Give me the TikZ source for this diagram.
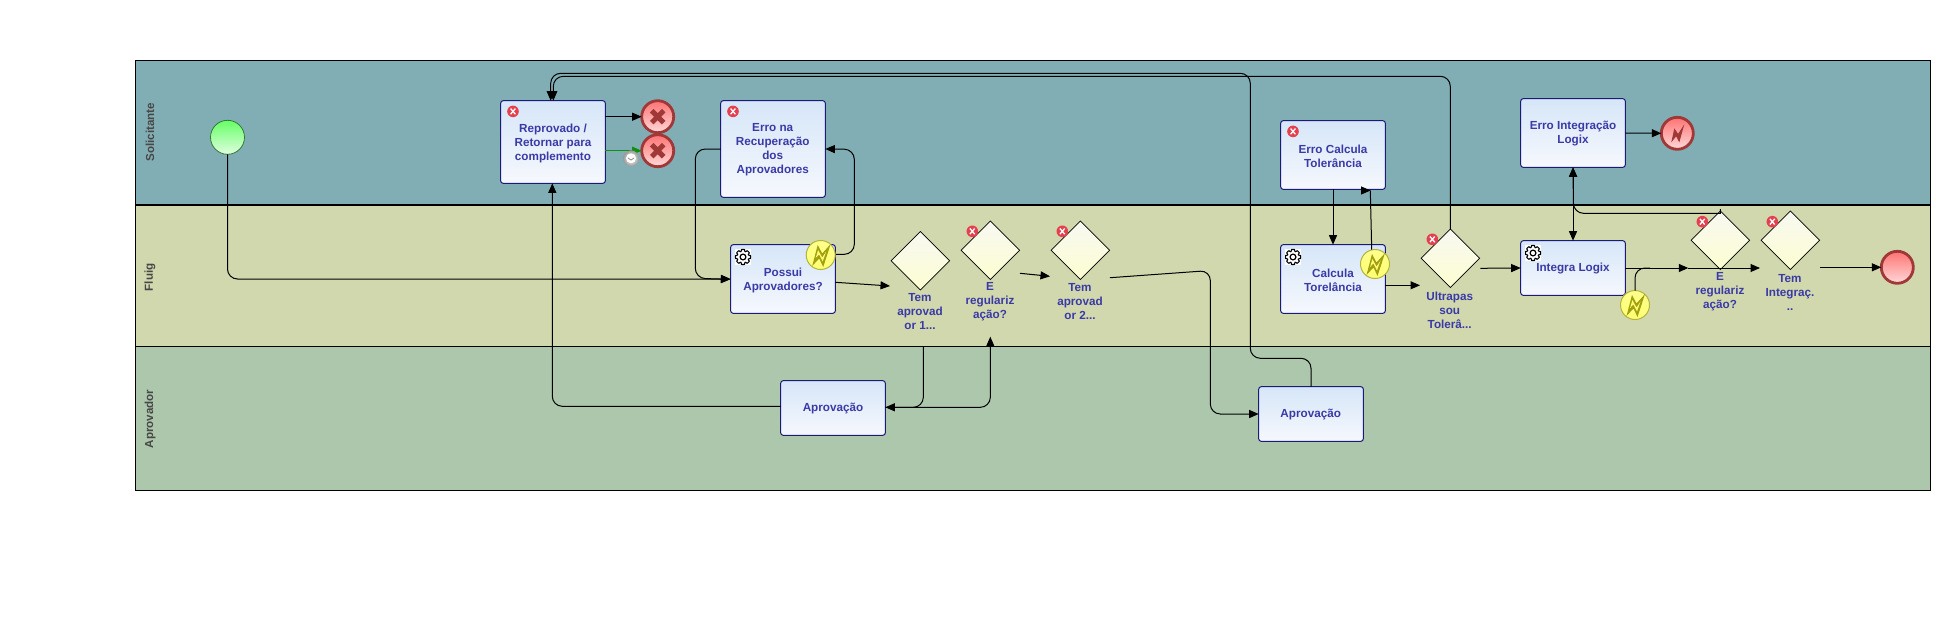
\documentclass[tikz,border=0pt]{standalone}
\usepackage{fontspec}
\usetikzlibrary{arrows.meta,calc,shapes.geometric}
\setmainfont{Liberation Sans}
\definecolor{laneA}{HTML}{81AEB4}
\definecolor{laneB}{HTML}{D1D8AE}
\definecolor{laneC}{HTML}{ACC7AB}
\definecolor{txtblue}{HTML}{3A3AA6}
\definecolor{taskline}{HTML}{1A1A78}
\definecolor{tasktop}{HTML}{D6E6F8}
\definecolor{taskbot}{HTML}{F6F8FD}
\definecolor{gwtop}{HTML}{F8F8F2}
\definecolor{gwbot}{HTML}{FCFED0}
\definecolor{endred}{HTML}{A03838}
\definecolor{olive}{HTML}{A0A010}
\definecolor{flowgreen}{HTML}{109010}
\definecolor{errred}{HTML}{E4404E}
\tikzset{
  lanebox/.style={draw=black,line width=1pt},
  lanelabel/.style={font=\fontsize{11.6}{13}\selectfont\bfseries,text=black!72,rotate=90,anchor=center},
  task/.style={draw=taskline,line width=1pt,rounded corners=2.5pt,top color=tasktop,bottom color=taskbot,minimum width=104.6pt,inner sep=0pt,outer sep=0pt},
  gw/.style={diamond,aspect=1,draw=black,line width=.7pt,top color=gwtop,bottom color=gwbot,minimum width=58.5pt,minimum height=58.5pt,inner sep=0pt,outer sep=0pt},
  startev/.style={circle,draw=green!35!black!80,line width=.8pt,top color=green!60!white,bottom color=green!12!white,minimum size=34pt,inner sep=0pt,outer sep=0pt},
  endev/.style={circle,draw=endred,line width=2.8pt,top color=red!55!white,bottom color=red!15!white,minimum size=32pt,inner sep=0pt,outer sep=0pt},
  boundev/.style={circle,draw=olive!80,line width=1pt,top color=yellow!45!white,bottom color=yellow!55!white,minimum size=29pt,inner sep=0pt,outer sep=0pt},
  lbl/.style={font=\fontsize{11.7}{14}\selectfont\bfseries,text=txtblue,align=center,inner sep=0pt},
  flow/.style={draw=black,line width=1pt,rounded corners=10pt,-{Triangle[length=9.5pt,width=8pt]}},
  plainflow/.style={draw=black,line width=1pt,rounded corners=10pt},
  errmark/.pic={
    \fill[errred] (0,0) circle (5.8);
    \draw[white,line width=1.3pt] (-2.4,-2.8) -- (2.4,2.8) (-2.4,2.8) -- (2.4,-2.8);
  },
  gearmark/.pic={
    \fill[white] (-8,-8) rectangle (8,8);
    \foreach \a in {0,45,...,315}{
      \draw[black,line width=1.1pt,line join=round] (\a-22.5:5.5) -- (\a-11:7.6) -- (\a+11:7.6) -- (\a+22.5:5.5);
    }
    \draw[black,line width=1.2pt] (0,0) circle (2.9);
  },
  boltmark/.pic={
    \fill[olive] (-8.5,11) -- (-3,-10) -- (1.5,-1.5) -- (10,-11) -- (2.5,12) -- (-1.5,3.5) -- cycle;
    \fill[yellow!55!white] (-5,3) -- (-2.6,-5) -- (1.5,2.5) -- (5.5,-3.5) -- (2,6.5) -- (-1.6,-.5) -- cycle;
  },
  endbolt/.pic={
    \fill[endred] (-6,9) -- (-3,-5) -- (.8,.5) -- (7,-9) -- (2,9) -- (-1.2,3) -- cycle;
  },
  endcross/.pic={
    \draw[endred,line width=5pt] (-6,-6) -- (6,6) (-6,6) -- (6,-6);
  },
  clockmark/.pic={
    \shade[inner color=white,outer color=black!40] (0,0) circle (8);
    \fill[white] (0,0) circle (5);
    \draw[black!50,line width=.7pt] (-3.2,-.5) -- (0,1.8) -- (3.2,-.5);
  }
}
\begin{document}
\begin{tikzpicture}[x=1pt,y=-1pt]
\useasboundingbox (0,0) rectangle (1936,629);
% lanes
\fill[laneA] (135.5,60.5) rectangle (1930,205);
\fill[laneB] (135.5,205) rectangle (1930,346);
\fill[laneC] (135.5,346) rectangle (1930,490);
\draw[lanebox] (135.5,60.5) rectangle (1930,490);
\draw[lanebox,line width=2pt] (135.5,205) -- (1930,205);
\draw[lanebox] (135.5,346) -- (1930,346);
\node[lanelabel] (l1) at (150,132.3) {Solicitante};
\node[lanelabel] (l2) at (150,277.3) {Fluig};
\node[lanelabel] (l3) at (150,419) {Aprovador};
% tasks
\node[task,minimum height=82.6pt] (reprov) at (553,142) {};
\node[task,minimum height=96.6pt] (erroRec) at (773,149) {};
\node[task,minimum height=68.6pt] (possui) at (783,279) {};
\node[task,minimum height=68.6pt] (erroCalc) at (1333,155) {};
\node[task,minimum height=68.6pt] (calc) at (1333,279) {};
\node[task,minimum height=68.6pt] (erroInt) at (1573,133) {};
\node[task,minimum height=54.6pt] (integra) at (1573,268) {};
\node[task,minimum height=54.6pt] (aprov1) at (833,408) {};
\node[task,minimum height=54.6pt] (aprov2) at (1311,414) {};
% gateways
\node[gw] (g1) at (920.3,260.7) {};
\node[gw] (g2) at (990.3,250.3) {};
\node[gw] (g3) at (1080.3,250.3) {};
\node[gw] (g4) at (1450.3,258.3) {};
\node[gw] (g5) at (1720.3,240.3) {};
\node[gw] (g6) at (1790.3,240.3) {};
% events
\node[startev] (start) at (227.5,137.3) {};
\node[endev] (endA) at (657.7,116.7) {};
\node[endev] (endB) at (657.7,150.7) {};
\node[endev] (endC) at (1677.3,133.3) {};
\node[endev] (endD) at (1897.3,267.3) {};
\pic at (endA) {endcross};
\pic at (endB) {endcross};
\pic at (endC) {endbolt};
\node[boundev] (bPossui) at (820.7,255) {};
\node[boundev] (bCalc) at (1375,264) {};
\node[boundev] (bInt) at (1635,305) {};
\pic at (bPossui) {boltmark};
\pic at (bCalc) {boltmark};
\pic at (bInt) {boltmark};
\coordinate (clock) at (631,158.3);
% labels
\node[lbl] (t1) at (553,143) {Reprovado /\\Retornar para\\complemento};
\node[lbl] (t2) at (772.7,150) {Erro na\\Recuperação\\dos\\Aprovadores};
\node[lbl] (t3) at (783,280) {Possui\\Aprovadores?};
\node[lbl] (t4) at (920,312) {Tem\\aprovad\\or 1...};
\node[lbl] (t5) at (990,302) {E\\regulariz\\ação?};
\node[lbl] (t6) at (1080,302) {Tem\\aprovad\\or 2...};
\node[lbl] (t7) at (1333,156) {Erro Calcula\\Tolerância};
\node[lbl] (t8) at (1333,280) {Calcula\\Torelância};
\node[lbl] (t9) at (1449.7,310) {Ultrapas\\sou\\Tolerâ...};
\node[lbl] (t10) at (1573,134) {Erro Integração\\Logix};
\node[lbl] (t11) at (1573,268.5) {Integra Logix};
\node[lbl] (t12) at (833,408.5) {Aprovação};
\node[lbl] (t13) at (1310.7,414.8) {Aprovação};
\node[lbl] (t14) at (1720,292) {E\\regulariz\\ação?};
\node[lbl] (t15) at (1790,292) {Tem\\Integraç.\\..};
% icons
\pic at ($(reprov.north west)+(12.3,10.7)$) {errmark};
\pic at ($(erroRec.north west)+(12.3,10.7)$) {errmark};
\pic at ($(erroCalc.north west)+(12.3,10.7)$) {errmark};
\pic at (972.3,231.3) {errmark};
\pic at (1062.3,231.3) {errmark};
\pic at (1432.3,239.3) {errmark};
\pic at (1702.3,221.7) {errmark};
\pic at (1772.3,221.7) {errmark};
\pic at ($(possui.north west)+(12.3,12.3)$) {gearmark};
\pic at ($(calc.north west)+(12.3,12.3)$) {gearmark};
\pic at ($(integra.north west)+(12.3,12.3)$) {gearmark};
% connectors
\draw[flow] (start.south) -- (start.south |- possui.west) -- (possui.west);
\draw[flow] (erroRec.west) -- ++(-25.4,0) -- ($(erroRec.west)+(-25.4,129.3)$) -- ($(possui.west)+(-.5,.3)$);
\draw[flow] ($(bPossui.east)+(1,-.7)$) -- (854.3,254.3) -- (854.3,149.3) -- (erroRec.east);
\draw[flow] (reprov.east |- endA) -- (endA.west);
\draw[flow,draw=flowgreen,{-{Triangle[length=9.5pt,width=8pt,flowgreen]}}] (reprov.east |- endB) -- (endB.west);
\pic at (clock) {clockmark};
\draw[flow] ($(possui.east)+(0,3.3)$) -- (890,286);
\draw[flow] (1020,273.3) -- (1050,276.3);
\coordinate (g1out) at (923.3,346);
\draw[flow] (g1out) -- (923.3,407.3) -- ($(aprov1.east)+(0,-.7)$);
\draw[flow] ($(aprov1.east)+(0,-.7)$) -- (990.3,407.3) -- (990.3,336.7);
\draw[flow] ($(aprov1.west)+(0,-1.7)$) -- (552.3,406.3) -- ($(reprov.south)+(-.7,0)$);
\draw[flow] (g4.north) -- (1450.3,76.3) -- (553.3,76.3) -- ($(reprov.north)+(.3,0)$);
\draw[flow] (aprov2.north) -- (1311,358.3) -- (1250.3,358.3) -- (1250.3,73.3) -- (550.7,73.3) -- ($(reprov.north)+(-2.3,0)$);
\coordinate (g3out) at (1110,277.7);
\draw[flow] (g3out) -- (1210.3,270.5) -- (1210.3,414) -- (aprov2.west);
\draw[flow] (erroCalc.south) -- (calc.north);
\draw[plainflow] ($(bCalc.north)+(-3.3,0)$) -- (1370.3,190.5);
\draw[flow] (1361.5,190.5) -- (1370.5,190.5);
\draw[flow] ($(calc.east)+(0,6.3)$) -- (1420,285.3);
\draw[flow] (1480.3,268.3) -- (integra.west);
\draw[flow,{Triangle[length=9.5pt,width=8pt]}-{Triangle[length=9.5pt,width=8pt]}] (erroInt.south) -- (integra.north);
\draw[flow] ($(g5.north)+(0,-2)$) [sharp corners] -- (1720.3,213.3) [rounded corners=10pt] -- (1573.5,213.3) -- (erroInt.south);
\draw[flow] (erroInt.east) -- (endC.west);
\draw[flow] (integra.east) -- (1688.3,268);
\draw[flow] (1688.3,268) -- (1760,268);
\draw[plainflow] (bInt.north) -- (1635,268) -- (1650,268);
\draw[flow] (1820,267.3) -- (endD.west);
\end{tikzpicture}
\end{document}
